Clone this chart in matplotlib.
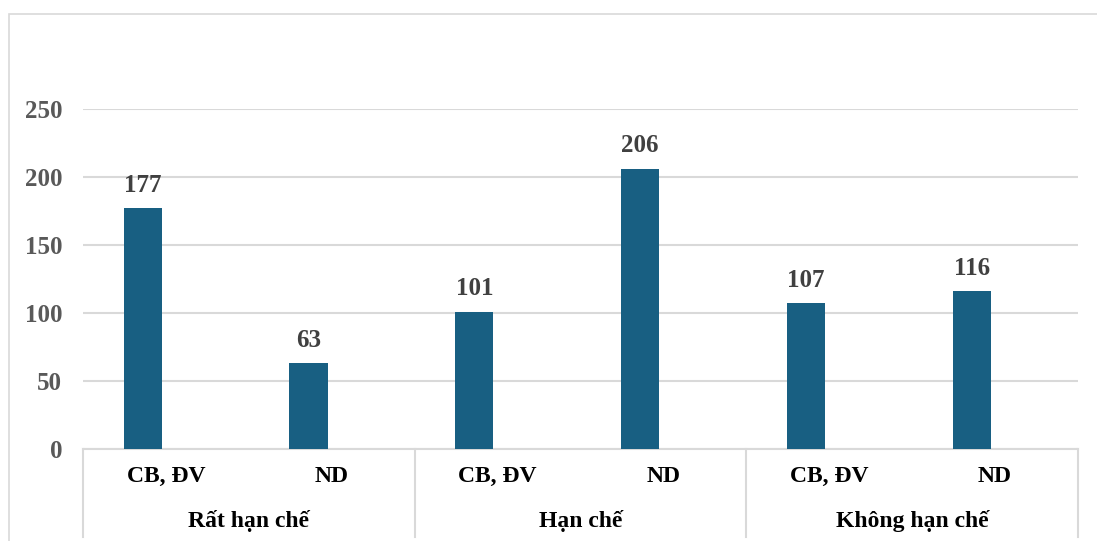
import numpy as np
import matplotlib
matplotlib.use('Agg')
import matplotlib.pyplot as plt
from matplotlib.patches import Rectangle

# Datos
grupos = ["Rất hạn chế", "Hạn chế", "Không hạn chế"]
subgrupos = ["CB, ĐV", "ND"]
valores = [177, 63, 101, 206, 107, 116]
yticks = [0, 50, 100, 150, 200, 250]

plt.rcParams['font.family'] = ['Liberation Serif', 'DejaVu Serif']
plt.rcParams['font.weight'] = 'bold'

W, H = 1097, 541
fig = plt.figure(figsize=(W / 100, H / 100), dpi=100)

# marco exterior del gráfico
fig.patches.append(Rectangle((9 / W, -0.2), 1.2, 1.2 - 14 / H + 0.0,
                             transform=fig.transFigure, fill=False,
                             edgecolor='#d9d9d9', linewidth=1.2))

ax = fig.add_axes([83 / W, 92 / H, (1078 - 83) / W, 340 / H])
n = len(valores)
x = np.arange(n) + 0.5
color_barra = '#185f82'
ax.bar(x - 0.14, valores, width=0.23, color=color_barra, zorder=3)

for xi, v in zip(x - 0.14, valores):
    ax.annotate(str(v), (xi, v), xytext=(0, 12), textcoords='offset points',
                ha='center', va='baseline', fontsize=18, fontweight='bold',
                color='#404040')

ax.set_xlim(0, n)
ax.set_ylim(0, 250)
ax.set_yticks(yticks)
ax.set_yticklabels([str(t) for t in yticks], fontsize=18, fontweight='bold',
                   color='#595959')
ax.tick_params(axis='y', length=0, pad=15)
ax.set_xticks([])
for s in ax.spines.values():
    s.set_visible(False)
ax.yaxis.grid(True, color='#d9d9d9', linewidth=1.5, zorder=0)

# eje de categorías en dos niveles
gris = '#d9d9d9'
trans = ax.get_xaxis_transform()
fondo = -(537 - 449) / 340
ax.plot([0, n], [0, 0], color=gris, linewidth=1.5, transform=trans, clip_on=False)
for xb in range(0, n + 1, 2):
    ax.plot([xb, xb], [0, fondo], color=gris, linewidth=1.5, transform=trans,
            clip_on=False)

y1 = -(476 - 449) / 340
y2 = -(521 - 449) / 340
for i in range(n):
    ax.text(x[i], y1, subgrupos[i % 2], transform=trans, ha='center', va='center',
            fontsize=17, fontweight='bold', color='black')
for j, g in enumerate(grupos):
    ax.text(2 * j + 1, y2, g, transform=trans, ha='center', va='center',
            fontsize=17, fontweight='bold', color='black')

plt.savefig("out.png", dpi=100)
